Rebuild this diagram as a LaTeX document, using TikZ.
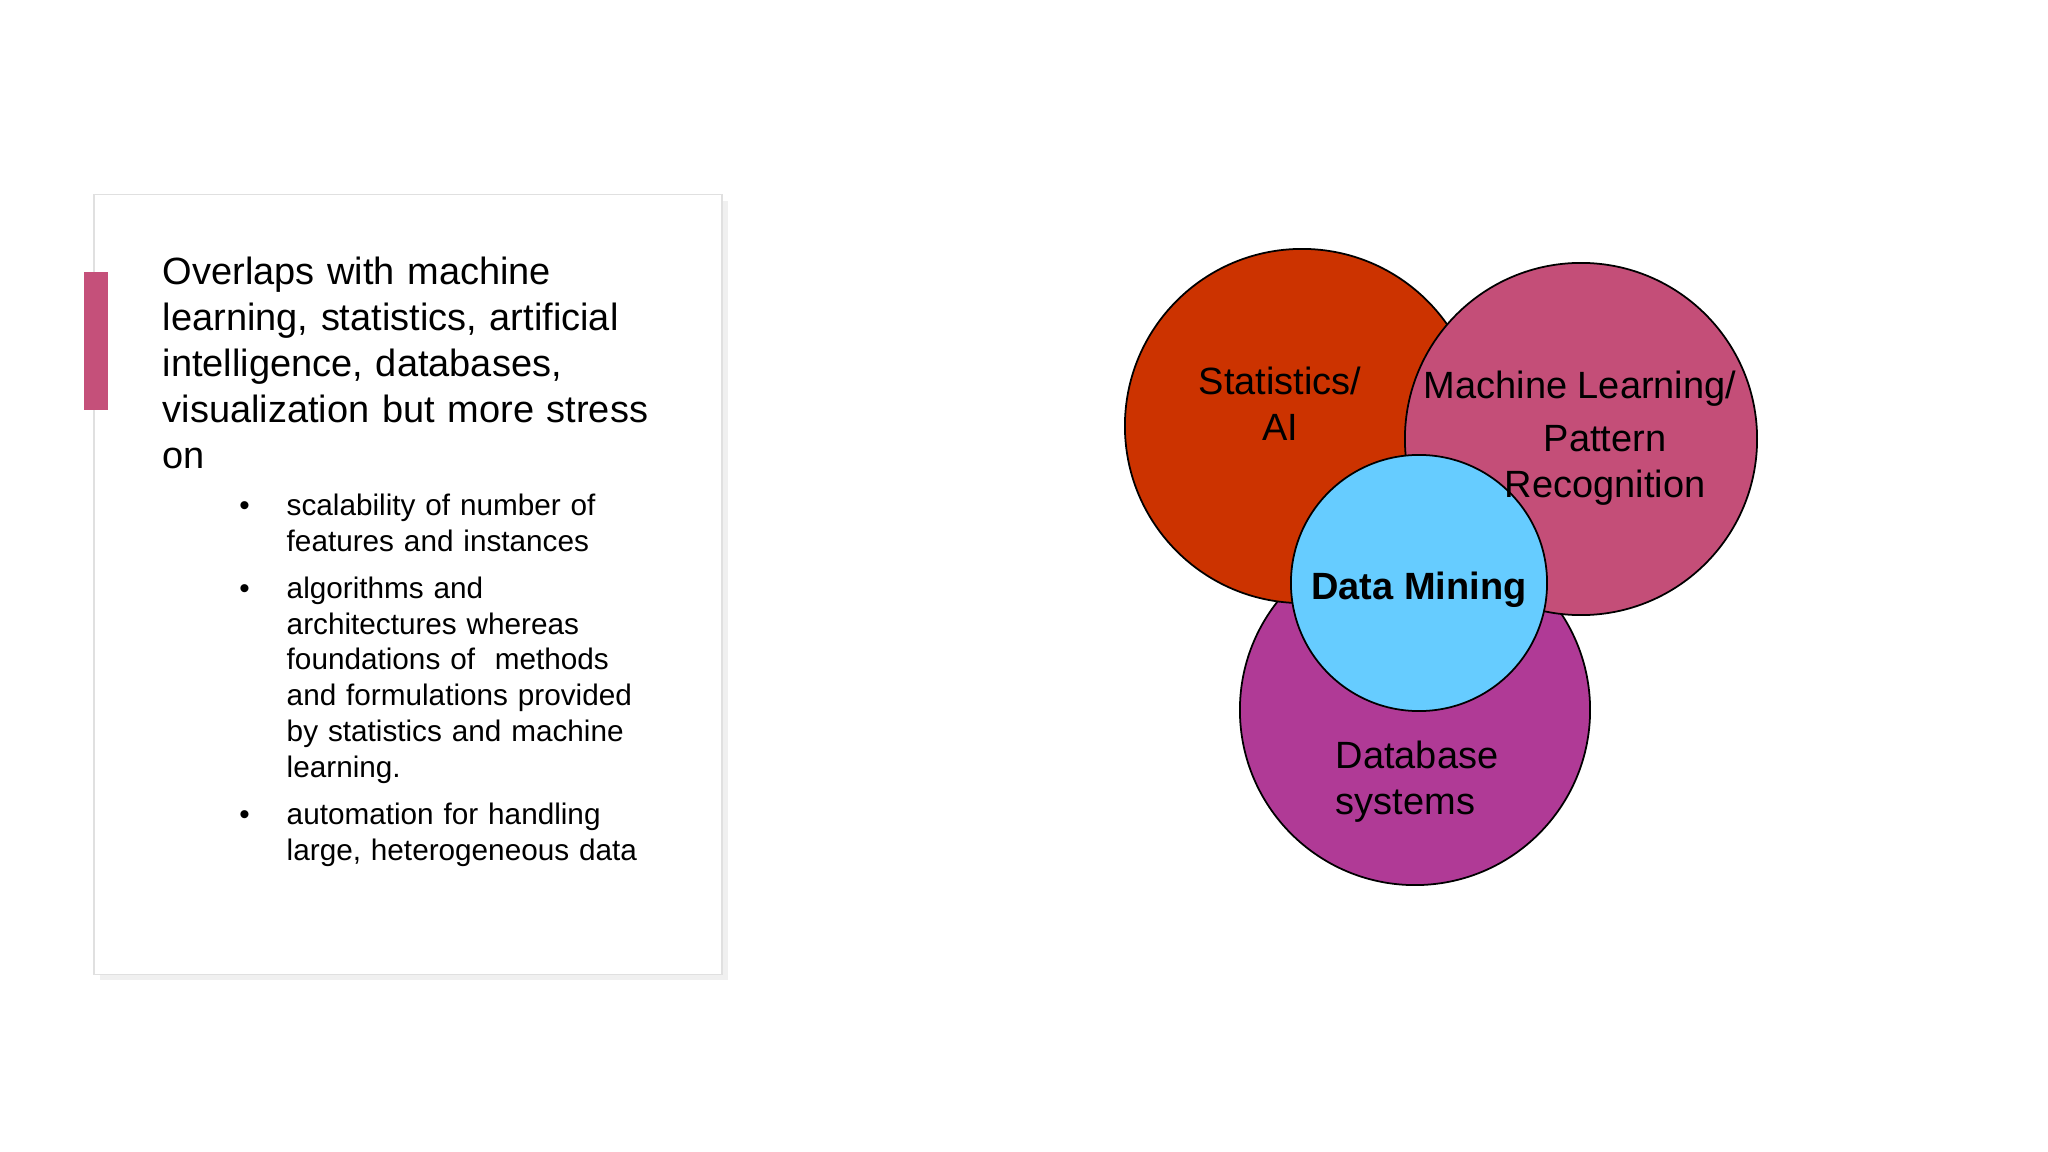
\documentclass[tikz,border=0pt]{standalone}
\usepackage{fontspec}
\setmainfont{Liberation Sans}
\usepackage{enumitem}
\usetikzlibrary{positioning,shadows}
\definecolor{dmred}  {RGB}{204, 51,  0}
\definecolor{dmrose} {RGB}{196, 78,120}
\definecolor{dmplum} {RGB}{176, 58,150}
\definecolor{dmsky}  {RGB}{102,204,255}
\definecolor{barrose}{RGB}{197, 80,122}
\definecolor{boxedge}{RGB}{224,224,224}
\newcommand{\dmtextfont}{\fontsize{10.8}{13.1}\selectfont}
\newcommand{\dmitemfont}{\fontsize{8.45}{10.2}\selectfont}
\tikzset{
  card/.style={draw=boxedge,fill=white,minimum width=6.28cm,minimum height=7.79cm,
               drop shadow={shadow xshift=0.06cm,shadow yshift=-0.06cm,opacity=0.12}},
  accent/.style={fill=barrose,inner sep=0pt,minimum width=0.24cm,minimum height=1.38cm},
  para/.style={font=\dmtextfont,align=left,inner sep=0pt,text width=5.3cm},
  bullets/.style={font=\dmitemfont,inner sep=0pt,text width=4.2cm},
  venn/.style={circle,draw=black,line width=0.5pt,inner sep=0pt,minimum size=3.5cm},
  vennred/.style={venn,fill=dmred,minimum size=3.54cm},
  vennrose/.style={venn,fill=dmrose,minimum size=3.52cm},
  vennplum/.style={venn,fill=dmplum},
  vennsky/.style={venn,fill=dmsky,minimum size=2.56cm},
  vlbl/.style={font=\dmtextfont,inner sep=0pt},
}
\begin{document}
\begin{tikzpicture}[x=0.01cm,y=-0.01cm]
  \useasboundingbox (0,0) rectangle (2048,1152);

  % text card
  \node[card] (card) at (408,584.5) {};
  \node[accent] (bar) at (96,341) {};
  \node[para,anchor=north west] (intro) at (162,256)
    {Overlaps with machine\\ learning, statistics, artificial\\ intelligence, databases,\\
     visualization but more stress\\ on};
  \node[bullets,anchor=north west] (items) at (232,479) {%
    \begin{itemize}[leftmargin=0.54cm,labelsep=0.37cm,itemsep=3.1pt,
                    topsep=0pt,parsep=0pt,partopsep=0pt]
      \item scalability of number of\newline features and instances
      \item algorithms and\newline architectures whereas\newline
            foundations of~ methods\newline and formulations provided\newline
            by statistics and machine\newline learning.
      \item automation for handling\newline large, heterogeneous data
    \end{itemize}};

  % venn circles
  \node[vennplum] (db)   at (1415,710) {};
  \node[vennred]  (stat) at (1302,426) {};
  \node[vennrose] (ml)   at (1581,439) {};
  \node[vennsky]  (dm)   at (1419,583) {};

  \node[vlbl,align=center] (statlbl) at (1280,404) {Statistics/\\AI};
  \node[vlbl,align=center] (mllbl)   at (1605,438)
    {Machine Learning/\hspace*{0.5cm}\\[2pt]Pattern\\Recognition};
  \node[vlbl,align=left,anchor=west] (dblbl) at (1335,782) {Database\\systems};
  \node[vlbl,font=\dmtextfont\bfseries] (dmlbl) at (1419,590) {Data Mining};
\end{tikzpicture}
\end{document}
